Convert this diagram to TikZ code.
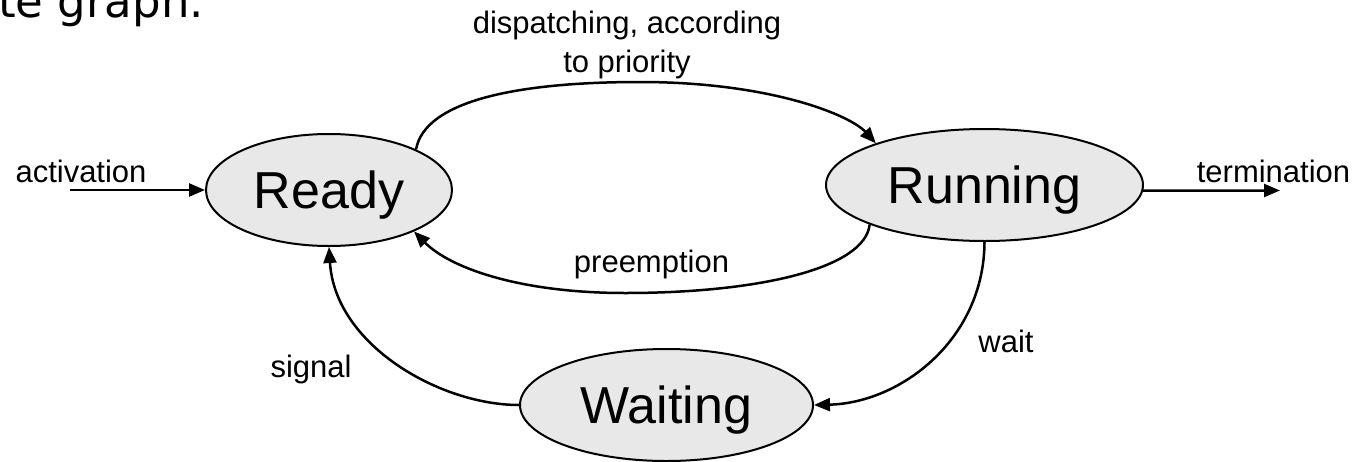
\documentclass[tikz,border=0pt]{standalone}
\usepackage{fontspec}
\setmainfont{Liberation Sans}
\newfontfamily\titlefont{DejaVu Sans}
\usetikzlibrary{shapes.geometric,arrows.meta}
\definecolor{statefill}{HTML}{E8E8E8}
\begin{document}
\begin{tikzpicture}[x=1pt,y=-1pt,
  state/.style={ellipse,draw,line width=2pt,fill=statefill,inner sep=0pt,
    text height=37pt,text depth=0pt,font=\fontsize{52}{60}\selectfont},
  conn/.style={line width=2.5pt,-{Triangle[length=16pt,width=13pt]}},
  lbl/.style={inner sep=0pt,font=\fontsize{31}{39}\selectfont}]
\useasboundingbox (0,0) rectangle (1361,461);
\clip (0,0) rectangle (1361,461);
\fill[white] (0,0) rectangle (1361,461);
% title fragment
\node[inner sep=0pt,anchor=base west,font=\titlefont\fontsize{45}{54}\selectfont] (title) at (-2,17) {te graph.};
% states
\node[state,minimum width=246pt,minimum height=112pt] (ready) at (329,190) {Ready};
\node[state,minimum width=317pt,minimum height=112pt] (running) at (984.5,185) {Running};
\node[state,minimum width=293pt,minimum height=112pt] (waiting) at (666.5,405) {Waiting};
% free ends
\coordinate (actstart) at (70,190);
\coordinate (termend) at (1280,190.5);
% connectors
\draw[conn] (actstart) -- (ready.west);
\draw[conn] (running.-2) -- (termend);
\draw[conn] (ready.25) .. controls (425,100) and (520,82) .. (640,82)
  .. controls (770,82) and (850,115) .. (running.159.5);
\draw[conn] (running.199.6) .. controls (865,268) and (760,293) .. (625,293)
  .. controls (520,293) and (450,268) .. (ready.-26);
\draw[conn] (running.south) .. controls (984,340) and (900,403) .. (waiting.east);
\draw[conn] (waiting.west) .. controls (440,405) and (335,345) .. (ready.south);
% labels
\node[lbl,anchor=base] (lact) at (81,182) {activation};
\node[lbl,anchor=base] (lterm) at (1273.5,182) {termination};
\node[lbl,anchor=north,align=center] (ldisp) at (627,10.5) {dispatching, according\\to priority};
\node[lbl,anchor=base] (lpre) at (651.5,272) {preemption};
\node[lbl,anchor=base] (lsig) at (311,377) {signal};
\node[lbl,anchor=base] (lwait) at (1006,352) {wait};
\end{tikzpicture}
\end{document}
